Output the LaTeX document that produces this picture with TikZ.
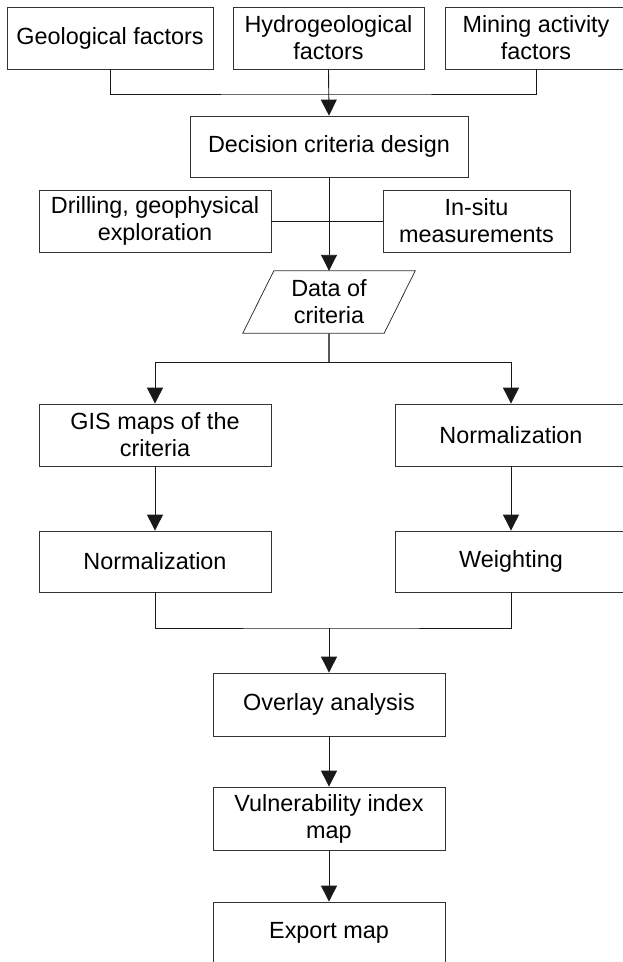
\documentclass[tikz,border=0pt]{standalone}
\usepackage{fontspec}
\setmainfont{Liberation Sans}
\usetikzlibrary{arrows.meta}
\begin{document}
\begin{tikzpicture}[x=1pt,y=-1pt,
  stepbox/.style={draw=black!80, line width=0.8pt, rectangle, align=center, inner sep=0pt,
    font=\fontsize{23.4}{27}\selectfont},
  txt/.style={align=center, inner sep=0pt, font=\fontsize{23.4}{27}\selectfont},
  conn/.style={draw=black!90, line width=0.9pt},
  arr/.style={conn, -{Triangle[length=16pt,width=16pt]}}]
\useasboundingbox (0,0) rectangle (623,962);
\begin{scope}
\clip (0,0) rectangle (623,962);
% top row
\node[stepbox, minimum width=206pt, minimum height=62pt] (geo) at (110,38) {Geological factors};
\node[stepbox, minimum width=191pt, minimum height=62pt] (hydro) at (328.5,38) {Hydrogeological\\factors};
\node[stepbox, minimum width=182pt, minimum height=62pt] (mining) at (536,38) {Mining activity\\factors};
\coordinate (j1) at (329,94);
\draw[conn] (geo.south) |- (j1) -| (mining.south);
% decision
\node[stepbox, minimum width=278pt, minimum height=61pt] (decision) at (329,146.5) {Decision criteria design};
\draw[arr] (hydro.south) -- (decision.north);
% exploration
\node[stepbox, minimum width=232pt, minimum height=62pt] (drill) at (155,221) {Drilling, geophysical\\exploration};
\node[stepbox, minimum width=187pt, minimum height=62pt] (insitu) at (476.5,221) {In-situ\\measurements};
\draw[conn] (drill.east) -- (insitu.west);
% data parallelogram
\node[txt, minimum width=141pt, minimum height=62pt] (data) at (329,302) {Data of\\criteria};
\draw[draw=black!80, line width=0.8pt]
  ([xshift=15.5pt]data.north west) -- ([xshift=15.5pt]data.north east)
  -- ([xshift=-15.5pt]data.south east) -- ([xshift=-15.5pt]data.south west) -- cycle;
\draw[arr] (decision.south) -- (data.north);
% branch
\coordinate (b1) at (329,362);
\draw[draw=black!65, line width=1.5pt] (data.south) -- (b1);
\node[stepbox, minimum width=232pt, minimum height=62pt] (gis) at (155,435) {GIS maps of the\\criteria};
\node[stepbox, minimum width=232pt, minimum height=62pt] (normR) at (511,435) {Normalization};
\draw[arr] (b1) -| (gis.north);
\draw[arr] (b1) -| (normR.north);
\node[stepbox, minimum width=232pt, minimum height=61pt] (normL) at (155,561.5) {Normalization};
\node[stepbox, minimum width=232pt, minimum height=61pt] (weight) at (511,561.5) {Weighting};
\draw[arr] (gis.south) -- (normL.north);
\draw[arr] (normR.south) -- (weight.north);
% merge
\coordinate (m1) at (329,628);
\draw[conn] (normL.south) |- (m1) -| (weight.south);
\node[stepbox, minimum width=232pt, minimum height=63pt] (overlay) at (329,704.5) {Overlay analysis};
\draw[arr] (m1) -- (overlay.north);
\node[stepbox, minimum width=232pt, minimum height=63pt] (vuln) at (329,818.5) {Vulnerability index\\map};
\draw[arr] (overlay.south) -- (vuln.north);
\node[stepbox, minimum width=232pt, minimum height=62pt] (export) at (329,933) {Export map};
\draw[arr] (vuln.south) -- (export.north);
\end{scope}
\end{tikzpicture}
\end{document}
